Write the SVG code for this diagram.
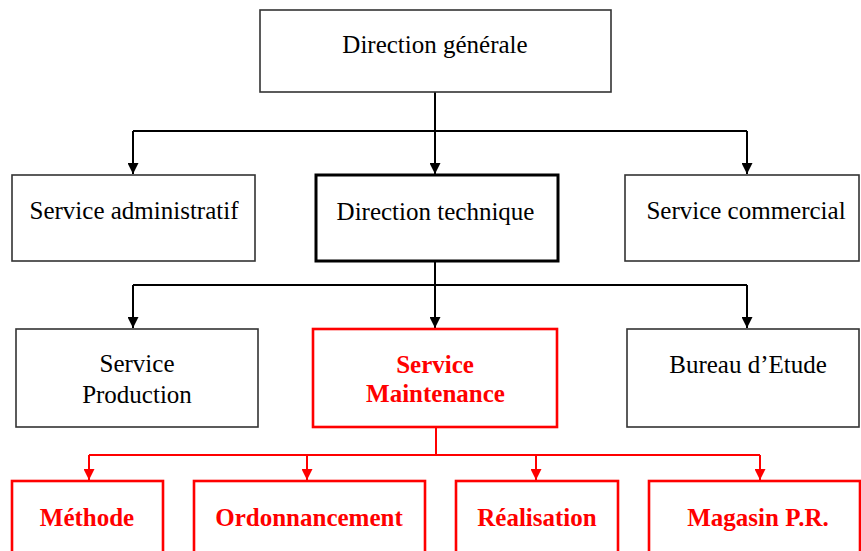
<svg xmlns="http://www.w3.org/2000/svg" width="861" height="551" viewBox="0 0 861 551">
<style>
.box{fill:#fff;stroke:#333;stroke-width:1.6}
.thick{fill:#fff;stroke:#000;stroke-width:3}
.red{fill:#fff;stroke:#ff0000;stroke-width:2.6}
.t{font-family:"Liberation Serif","Times New Roman",serif;font-size:25px;fill:#000;text-anchor:middle}
.rt{font-family:"Liberation Serif","Times New Roman",serif;font-size:25px;font-weight:bold;fill:#ff0000;text-anchor:middle}
.ln{fill:none;stroke:#000;stroke-width:2}
.rln{fill:none;stroke:#ff0000;stroke-width:2}
</style>
<defs>
<marker id="ah" viewBox="0 0 10 10" refX="10" refY="5" markerWidth="11" markerHeight="11" markerUnits="userSpaceOnUse" orient="auto"><path d="M0,0 L10,5 L0,10 z" fill="#000"/></marker>
<marker id="rah" viewBox="0 0 10 10" refX="10" refY="5" markerWidth="11" markerHeight="11" markerUnits="userSpaceOnUse" orient="auto"><path d="M0,0 L10,5 L0,10 z" fill="#ff0000"/></marker>
</defs>
<g id="connectors">
<path class="ln" d="M435,92 V131"/>
<path class="ln" d="M133,131 H747"/>
<path class="ln" d="M133,131 V174" marker-end="url(#ah)"/>
<path class="ln" d="M435,131 V174" marker-end="url(#ah)"/>
<path class="ln" d="M747,131 V174" marker-end="url(#ah)"/>
<path class="ln" d="M435,261 V285"/>
<path class="ln" d="M133,285 H747"/>
<path class="ln" d="M133,285 V328" marker-end="url(#ah)"/>
<path class="ln" d="M435,285 V328" marker-end="url(#ah)"/>
<path class="ln" d="M747,285 V328" marker-end="url(#ah)"/>
<path class="rln" d="M436,427 V455"/>
<path class="rln" d="M89,455 H760"/>
<path class="rln" d="M89,455 V480" marker-end="url(#rah)"/>
<path class="rln" d="M307,455 V480" marker-end="url(#rah)"/>
<path class="rln" d="M536,455 V480" marker-end="url(#rah)"/>
<path class="rln" d="M760,455 V480" marker-end="url(#rah)"/>
</g>
<g id="direction-generale"><rect class="box" x="260" y="10" width="351" height="82"/><text class="t" x="435" y="53">Direction générale</text></g>
<g id="service-administratif"><rect class="box" x="12" y="175" width="243" height="86"/><text class="t" x="134" y="219">Service administratif</text></g>
<g id="direction-technique"><rect class="thick" x="316" y="175" width="242" height="86"/><text class="t" x="435.5" y="220">Direction technique</text></g>
<g id="service-commercial"><rect class="box" x="625" y="175" width="234" height="86"/><text class="t" x="746" y="219">Service commercial</text></g>
<g id="service-production"><rect class="box" x="16" y="329" width="242" height="98"/><text class="t" x="137" y="372">Service</text><text class="t" x="137" y="403">Production</text></g>
<g id="service-maintenance"><rect class="red" x="313" y="329" width="244" height="98"/><text class="rt" x="435" y="373">Service</text><text class="rt" x="435.5" y="402">Maintenance</text></g>
<g id="bureau-etude"><rect class="box" x="627" y="329" width="232" height="98"/><text class="t" x="748" y="373">Bureau d’Etude</text></g>
<g id="methode"><rect class="red" x="12" y="481" width="151" height="80"/><text class="rt" x="87" y="526">Méthode</text></g>
<g id="ordonnancement"><rect class="red" x="194" y="481" width="231" height="80"/><text class="rt" x="309" y="526">Ordonnancement</text></g>
<g id="realisation"><rect class="red" x="456" y="481" width="162" height="80"/><text class="rt" x="537" y="526">Réalisation</text></g>
<g id="magasin"><rect class="red" x="649" y="481" width="211" height="80"/><text class="rt" x="758" y="526">Magasin P.R.</text></g>
</svg>
